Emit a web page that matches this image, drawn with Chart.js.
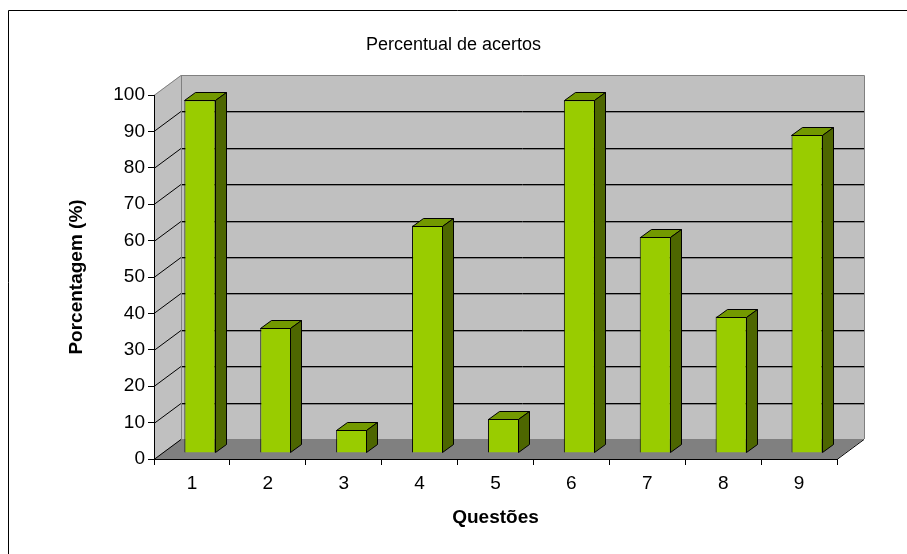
<!DOCTYPE html>
<html>
<head>
    <title>Percentual de acertos</title>
    <script src="https://cdn.jsdelivr.net/npm/chart.js"></script>
    <style>
        body { margin: 0; background: #fff; }
    </style>
</head>
<body>
    <canvas id="acertosChart" width="907" height="554"></canvas>

    <script>
        // dados
        var questoes = ['1', '2', '3', '4', '5', '6', '7', '8', '9'];
        var percentuais = [96.9, 34.4, 6.3, 62.5, 9.4, 96.9, 59.4, 37.5, 87.5];
        var yMin = 0;
        var yMax = 100;
        var yStep = 10;

        // profundidade do "3D" estilo Excel
        var depth = { dx: 27, dy: -20 };
        var barShift = { dx: 8, dy: -6 };
        var barDepth = { dx: 11, dy: -8 };

        function poly(ctx, pts, fill, stroke) {
            ctx.beginPath();
            ctx.moveTo(pts[0][0], pts[0][1]);
            for (var i = 1; i < pts.length; i++) ctx.lineTo(pts[i][0], pts[i][1]);
            ctx.closePath();
            if (fill) { ctx.fillStyle = fill; ctx.fill(); }
            if (stroke) { ctx.strokeStyle = stroke; ctx.lineWidth = 1; ctx.stroke(); }
        }

        var box3d = {
            id: 'box3d',
            beforeDraw: function (chart) {
                var ctx = chart.ctx;
                var xs = chart.scales.x, ys = chart.scales.y;
                var L = xs.left, R = xs.right;
                var yT = ys.getPixelForValue(yMax), yB = ys.getPixelForValue(yMin);
                var dx = depth.dx, dy = depth.dy;
                ctx.save();
                // moldura
                ctx.strokeStyle = '#000';
                ctx.lineWidth = 1;
                ctx.beginPath();
                ctx.moveTo(8.5, chart.height);
                ctx.lineTo(8.5, 10.5);
                ctx.lineTo(chart.width, 10.5);
                ctx.stroke();

                // paredes
                poly(ctx, [[L, yT], [L + dx, yT + dy], [L + dx, yB + dy], [L, yB]], '#c0c0c0');
                poly(ctx, [[L + dx, yT + dy], [R + dx, yT + dy], [R + dx, yB + dy], [L + dx, yB + dy]], '#c0c0c0');
                // piso
                poly(ctx, [[L, yB], [R, yB], [R + dx, yB + dy], [L + dx, yB + dy]], '#808080');

                // linhas de grade
                for (var v = yMin; v < yMax; v += yStep) {
                    var py = Math.round(ys.getPixelForValue(v)) + 0.5;
                    ctx.strokeStyle = '#000';
                    ctx.beginPath();
                    ctx.moveTo(L, py);
                    ctx.lineTo(L + dx, py + dy);
                    if (v > yMin) ctx.lineTo(R + dx, py + dy);
                    ctx.stroke();
                    if (v > yMin) {
                        ctx.strokeStyle = '#808080';
                        ctx.beginPath();
                        ctx.moveTo(L + dx, py + dy + 1);
                        ctx.lineTo(R + dx, py + dy + 1);
                        ctx.stroke();
                    }
                }
                // bordas das paredes
                var t = Math.round(yT) + 0.5;
                ctx.strokeStyle = '#808080';
                ctx.beginPath();
                ctx.moveTo(L, t);
                ctx.lineTo(L + dx, t + dy);
                ctx.lineTo(R + dx + 0.5, t + dy);
                ctx.lineTo(R + dx + 0.5, yB + dy);
                ctx.moveTo(L + dx + 0.5, t + dy);
                ctx.lineTo(L + dx + 0.5, yB + dy);
                ctx.stroke();
                ctx.strokeStyle = '#000';
                ctx.beginPath();
                ctx.moveTo(R, Math.round(yB) + 0.5);
                ctx.lineTo(R + dx, Math.round(yB) + 0.5 + dy);
                ctx.stroke();
                ctx.restore();
            },
            beforeDatasetDraw: function (chart) {
                chart.ctx.save();
                chart.ctx.translate(barShift.dx, barShift.dy);
            },
            afterDatasetDraw: function (chart) {
                chart.ctx.restore();
            },
            afterDatasetsDraw: function (chart) {
                var ctx = chart.ctx;
                var meta = chart.getDatasetMeta(0);
                ctx.save();
                meta.data.forEach(function (bar) {
                    var p = bar.getProps(['x', 'y', 'base', 'width'], true);
                    var x1 = Math.round(p.x - p.width / 2) + barShift.dx + 0.5;
                    var x2 = Math.round(p.x + p.width / 2) + barShift.dx - 0.5;
                    var yt = Math.round(p.y) + barShift.dy + 0.5;
                    var yb = Math.round(p.base) + barShift.dy - 0.5;
                    var ddx = barDepth.dx, ddy = barDepth.dy;
                    poly(ctx, [[x1, yt], [x2, yt], [x2 + ddx, yt + ddy], [x1 + ddx, yt + ddy]], '#739900', '#000');
                    poly(ctx, [[x2, yt], [x2 + ddx, yt + ddy], [x2 + ddx, yb + ddy], [x2, yb]], '#4d6600', '#000');
                });
                ctx.restore();
            }
        };

        Chart.defaults.font.family = "'Liberation Sans', Arial, sans-serif";
        Chart.defaults.color = '#000';

        var ctxAcertos = document.getElementById('acertosChart').getContext('2d');
        var acertosChart = new Chart(ctxAcertos, {
            type: 'bar',
            data: {
                labels: questoes,
                datasets: [{
                    data: percentuais,
                    backgroundColor: '#99cc00',
                    borderColor: '#000',
                    borderWidth: 1,
                    categoryPercentage: 1,
                    barPercentage: 0.41
                }]
            },
            options: {
                responsive: false,
                animation: false,
                layout: { padding: 0 },
                plugins: {
                    legend: { display: false },
                    tooltip: { enabled: false },
                    title: {
                        display: true,
                        text: 'Percentual de acertos',
                        font: { size: 18, weight: 'normal' },
                        color: '#000',
                        padding: { top: 34, bottom: 39.4 }
                    }
                },
                scales: {
                    x: {
                        ticks: { font: { size: 19 }, color: '#000', padding: 7 },
                        grid: { drawOnChartArea: false, tickLength: 6, color: '#000', offset: true },
                        border: { color: '#000' },
                        title: {
                            display: true,
                            text: 'Questões',
                            font: { size: 19, weight: 'bold' },
                            color: '#000',
                            padding: { top: 0, bottom: 24.6 }
                        },
                        afterFit: function (scale) { scale.height = 95; }
                    },
                    y: {
                        min: yMin,
                        max: yMax,
                        ticks: { stepSize: yStep, font: { size: 19 }, color: '#000', padding: 3 },
                        grid: { drawOnChartArea: false, tickLength: 6, color: '#000' },
                        border: { color: '#000' },
                        title: {
                            display: true,
                            text: 'Porcentagem (%)',
                            font: { size: 19, weight: 'bold' },
                            color: '#000',
                            padding: { top: 65, bottom: 0 }
                        },
                        afterFit: function (scale) { scale.width = 154; }
                    },
                    // eixo vazio a direita, so para reservar o espaco do 3D
                    yDireita: {
                        position: 'right',
                        min: yMin,
                        max: yMax,
                        ticks: { display: false },
                        grid: { display: false },
                        border: { display: false },
                        afterFit: function (scale) { scale.width = 70; }
                    }
                }
            },
            plugins: [box3d]
        });
    </script>
</body>
</html>
